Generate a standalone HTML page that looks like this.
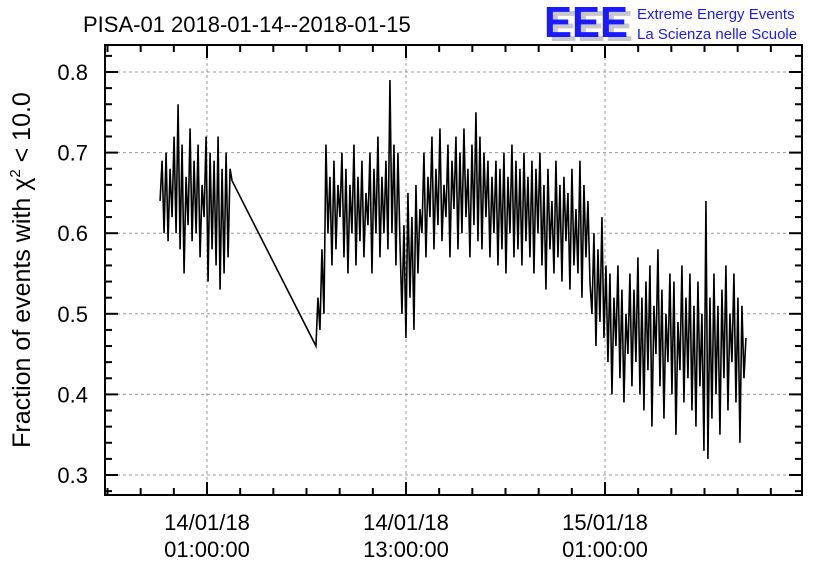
<!DOCTYPE html>
<html><head><meta charset="utf-8"><style>
body{margin:0;background:#fff;}
svg text{font-family:"Liberation Sans",sans-serif;}
</style></head><body>
<svg id="c" width="836" height="572" xmlns="http://www.w3.org/2000/svg">
<text x="83" y="32" font-size="22">PISA-01 2018-01-14--2018-01-15</text>
<g>
<text x="549" y="41" font-size="44" fill="#c8c8c8" font-weight="bold" textLength="84" lengthAdjust="spacingAndGlyphs">EEE</text>
<text x="544" y="37" font-size="44" fill="#1a1aff" font-weight="bold" textLength="84" lengthAdjust="spacingAndGlyphs">EEE</text>
<text x="637" y="19" font-size="15" fill="#1a1aff">Extreme Energy Events</text>
<text x="637" y="39" font-size="15" fill="#1a1aff">La Scienza nelle Scuole</text>
</g>
<g id="grid"></g>
<g id="ticks"></g>
<path id="series" fill="none" stroke="#000" stroke-width="1.6" stroke-linejoin="miter"/>
<rect x="105" y="45" width="697" height="450" fill="none" stroke="#000" stroke-width="2"/>
<text transform="translate(30,270) rotate(-90)" text-anchor="middle" font-size="25">Fraction of events with χ<tspan font-size="15" dy="-10">2</tspan><tspan dy="10"> &lt; 10.0</tspan></text>
</svg>
<script>
const yTicks=[0.3,0.4,0.5,0.6,0.7,0.8];
const yTickLabels=["0.3","0.4","0.5","0.6","0.7","0.8"];
const xTicksHours=[1,13,25];
const xTickLabels1=["14/01/18","14/01/18","15/01/18"];
const xTickLabels2=["01:00:00","13:00:00","01:00:00"];
const seg1Start=-1.83;
const seg2Start=7.57;
const stepHours=0.1206;
const seg1Values=[0.64,0.69,0.60,0.70,0.59,0.68,0.62,0.72,0.60,0.76,0.58,0.71,0.55,0.67,0.61,0.73,0.59,0.69,0.60,0.71,0.57,0.66,0.62,0.72,0.54,0.70,0.58,0.69,0.56,0.72,0.53,0.68,0.55,0.70,0.57,0.68,0.665];
const seg2Values=[0.46,0.52,0.48,0.58,0.50,0.71,
0.60,0.67,0.56,0.69,0.58,0.66,0.62,0.70,0.57,0.68,0.55,0.66,0.60,0.71,0.56,0.67,0.59,0.69,0.57,0.65,0.61,0.70,0.55,0.68,0.60,0.72,0.57,0.67,0.60,0.69,0.58,0.79,0.60,0.71,0.56,0.70,0.59,
0.50,0.61,0.47,0.65,0.52,0.62,0.48,0.66,0.55,0.63,
0.60,0.70,0.57,0.67,0.62,0.72,0.58,0.68,0.61,0.73,0.59,0.66,0.62,0.71,0.57,0.69,0.63,0.72,0.58,0.70,0.60,0.73,0.62,0.68,0.57,0.71,0.61,0.75,0.59,0.72,0.58,0.70,0.62,0.69,0.57,0.67,0.60,0.69,0.56,0.68,0.58,0.70,0.55,0.67,0.60,0.71,0.57,0.69,0.58,0.68,0.56,0.70,0.59,0.67,0.57,0.69,0.55,0.68,0.60,0.70,
0.56,0.66,0.53,0.68,0.58,0.64,0.55,0.69,0.57,0.66,0.54,0.67,0.59,0.65,0.53,0.68,0.56,0.63,0.55,0.69,0.52,0.66,0.57,0.64,0.54,
0.50,0.60,0.46,0.58,0.49,0.62,0.47,0.56,
0.44,0.55,0.40,0.52,0.46,0.56,0.42,0.53,0.39,0.50,0.45,0.55,0.41,0.53,0.44,0.57,0.40,0.52,0.38,0.54,0.43,0.56,0.36,0.51,0.45,0.58,0.41,0.53,0.37,0.50,0.44,0.55,0.40,0.54,0.35,0.49,0.43,0.56,0.39,0.52,0.42,0.55,0.38,0.51,0.36,0.54,0.41,0.50,0.33,0.64,0.32,0.52,0.37,0.55,0.40,0.51,0.35,0.53,0.42,0.56,0.38,0.50,0.44,0.55,0.39,0.52,0.34,0.51,0.42,0.47];

const L=105,R=802,T=45,B=495;
function xs(h){return 207+(h-1)*199/12;}
function ys(v){return 475-(v-0.3)*806;}
const NS="http://www.w3.org/2000/svg";
const svg=document.getElementById('c');
const grid=document.getElementById('grid'),ticks=document.getElementById('ticks');
function mk(tag,attrs,parent){const e=document.createElementNS(NS,tag);for(const k in attrs)e.setAttribute(k,attrs[k]);parent.appendChild(e);return e;}

yTicks.forEach((v,i)=>{
  const y=ys(v);
  const g=mk('line',{x1:L,x2:R,y1:y,y2:y,stroke:'#999','stroke-dasharray':'3,3','stroke-width':1},grid);
  
  
  const t=mk('text',{x:88,y:y+8,'text-anchor':'end','font-size':22},svg);
  t.textContent=yTickLabels[i];
  
  
});
for(let k=0;k<=30;k++){
  const v=0.28+k*0.02;const y=ys(v);
  if(y<T||y>B)continue;
  const major=Math.abs((v*10)-Math.round(v*10))<1e-6;
  const len=major?13:7;
  const a=mk('line',{x1:L,x2:L+len,y1:y,y2:y,stroke:'#000','stroke-width':2},ticks);
  
  
  const b=mk('line',{x1:R-len,x2:R,y1:y,y2:y,stroke:'#000','stroke-width':2},ticks);
  
  
}
xTicksHours.forEach((h,i)=>{
  const x=xs(h);
  const g=mk('line',{x1:x,x2:x,y1:T,y2:B,stroke:'#999','stroke-dasharray':'3,3','stroke-width':1},grid);
  
  
  const t1=mk('text',{x:x,y:530,'text-anchor':'middle','font-size':22},svg);
  t1.textContent=xTickLabels1[i];
  
  
  const t2=mk('text',{x:x,y:557,'text-anchor':'middle','font-size':22},svg);
  t2.textContent=xTickLabels2[i];
  
  
});
for(let h=-5;h<=37;h+=2){
  const x=xs(h);if(x<L||x>R)continue;
  const major=((h-1)%12===0);
  const len=major?13:7;
  const a=mk('line',{x1:x,x2:x,y1:B-len,y2:B,stroke:'#000','stroke-width':2},ticks);
  
  
  const b=mk('line',{x1:x,x2:x,y1:T,y2:T+len,stroke:'#000','stroke-width':2},ticks);
  
  
}
let d='';
seg1Values.forEach((v,i)=>{d+=(i?'L':'M')+xs(seg1Start+i*stepHours).toFixed(2)+','+ys(v).toFixed(2);});
seg2Values.forEach((v,i)=>{d+='L'+xs(seg2Start+i*stepHours).toFixed(2)+','+ys(v).toFixed(2);});
document.getElementById('series').setAttribute('d',d);
</script>
</body></html>
